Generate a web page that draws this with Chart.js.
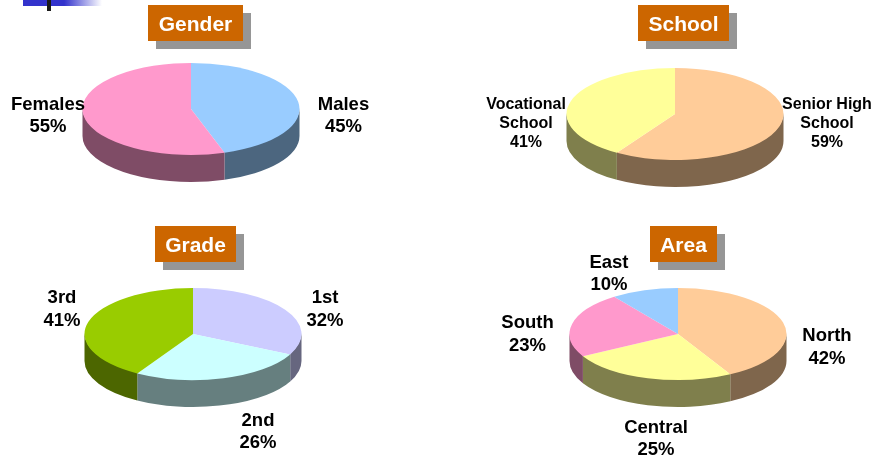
<!DOCTYPE html>
<html lang="en">
<head>
    <meta charset="UTF-8">
    <title>Sample profile</title>
    <script src="https://cdn.jsdelivr.net/npm/chart.js"></script>
    <style>
        html, body { margin: 0; padding: 0; background: #fff; }
        body { position: relative; width: 875px; height: 458px; overflow: hidden; font-family: "Liberation Sans", Arial, sans-serif; }
        canvas { position: absolute; }
        .bar { position: absolute; left: 23px; top: 0; width: 79px; height: 6px; background: linear-gradient(to right, #3333cc 0%, #3333cc 52%, #ffffff 100%); }
        .tick { position: absolute; left: 47px; top: 0; width: 4px; height: 11px; background: #1a1a1a; }
        .title { position: absolute; height: 36px; line-height: 37px; background: #cc6600; color: #fff; font-weight: bold; font-size: 21px; text-align: center; box-shadow: 8px 8px 0 #969696; }
        .label { position: absolute; width: 120px; margin-left: -60px; text-align: center; font-weight: bold; color: #000; white-space: pre; }
    </style>
</head>
<body>
    <div class="bar"></div>
    <div class="tick"></div>
    <script>
        const genderLabels = ["Males", "Females"];
        const genderValues = [45, 55];
        const genderColors = ["#99ccff", "#ff99cc"];

        const schoolLabels = ["Senior High\nSchool", "Vocational\nSchool"];
        const schoolValues = [59, 41];
        const schoolColors = ["#ffcc99", "#ffff99"];

        const gradeLabels = ["1st", "2nd", "3rd"];
        const gradeValues = [32, 26, 41];
        const gradeColors = ["#ccccff", "#ccffff", "#99cc00"];

        const areaLabels = ["North", "Central", "South", "East"];
        const areaValues = [42, 25, 23, 10];
        const areaColors = ["#ffcc99", "#ffff99", "#ff99cc", "#99ccff"];

        const RADIUS = 108.5;
        const FLAT = 46 / 108.5;   // squash the circle to look tilted
        const DEPTH = 27;
        const BOX = 240;

        function darker(hex) {
            const n = parseInt(hex.slice(1), 16);
            const r = (n >> 16) >> 1, g = ((n >> 8) & 255) >> 1, b = (n & 255) >> 1;
            return `rgb(${r},${g},${b})`;
        }

        // Side wall follows the arcs Chart.js computed, only the front half shows.
        // Top face is then drawn by Chart.js through the same squash.
        const pie3d = {
            id: "pie3d",
            beforeDatasetsDraw(chart) {
                const ctx = chart.ctx;
                const arcs = chart.getDatasetMeta(0).data;
                const colors = chart.data.datasets[0].backgroundColor;
                arcs.forEach((arc, i) => {
                    const from = Math.max(arc.startAngle, 0);
                    const to = Math.min(arc.endAngle, Math.PI);
                    if (from >= to) return;
                    const r = arc.outerRadius;
                    ctx.fillStyle = darker(colors[i]);
                    ctx.beginPath();
                    ctx.ellipse(arc.x, arc.y - 1, r, r * FLAT, 0, from, to);
                    ctx.ellipse(arc.x, arc.y + DEPTH, r, r * FLAT, 0, to, from, true);
                    ctx.closePath();
                    ctx.fill();
                });
                const c = BOX / 2;
                ctx.save();
                ctx.translate(c, c);
                ctx.scale(1, FLAT);
                ctx.translate(-c, -c);
            },
            afterDatasetsDraw(chart) {
                chart.ctx.restore();
            }
        };

        function addPie(name, labels, values, colors, cx, cy, labelSize, lineHeight, spots, box) {
            const canvas = document.createElement("canvas");
            canvas.width = BOX;
            canvas.height = BOX;
            canvas.style.left = (cx - BOX / 2) + "px";
            canvas.style.top = (cy - BOX / 2) + "px";
            document.body.appendChild(canvas);

            new Chart(canvas.getContext("2d"), {
                type: "pie",
                data: {
                    labels: labels,
                    datasets: [{ data: values, backgroundColor: colors, borderWidth: 0 }]
                },
                options: {
                    responsive: false,
                    animation: false,
                    radius: RADIUS,
                    plugins: { legend: { display: false }, tooltip: { enabled: false } }
                },
                plugins: [pie3d]
            });

            labels.forEach((text, i) => {
                const el = document.createElement("div");
                el.className = "label";
                el.textContent = text + "\n" + values[i] + "%";
                el.style.left = spots[i][0] + "px";
                el.style.top = spots[i][1] + "px";
                el.style.fontSize = labelSize + "px";
                el.style.lineHeight = lineHeight + "px";
                document.body.appendChild(el);
            });

            const title = document.createElement("div");
            title.className = "title";
            title.textContent = name;
            title.style.left = box[0] + "px";
            title.style.top = box[1] + "px";
            title.style.width = box[2] + "px";
            document.body.appendChild(title);
        }

        addPie("Gender", genderLabels, genderValues, genderColors, 190.5, 109, 18.5, 22.5,
            [[343.5, 92.5], [48, 92.5]], [148, 5, 95]);
        addPie("School", schoolLabels, schoolValues, schoolColors, 674.5, 114, 16, 19,
            [[827, 94], [526, 94]], [638, 5, 91]);
        addPie("Grade", gradeLabels, gradeValues, gradeColors, 193, 334, 18.5, 22.5,
            [[325, 286], [258, 408.5], [62, 286]], [155, 226, 81]);
        addPie("Area", areaLabels, areaValues, areaColors, 677.5, 334, 18.5, 22.5,
            [[827, 324], [656, 415.5], [527.5, 311], [609, 250.5]], [650, 226, 67]);
    </script>
</body>
</html>
